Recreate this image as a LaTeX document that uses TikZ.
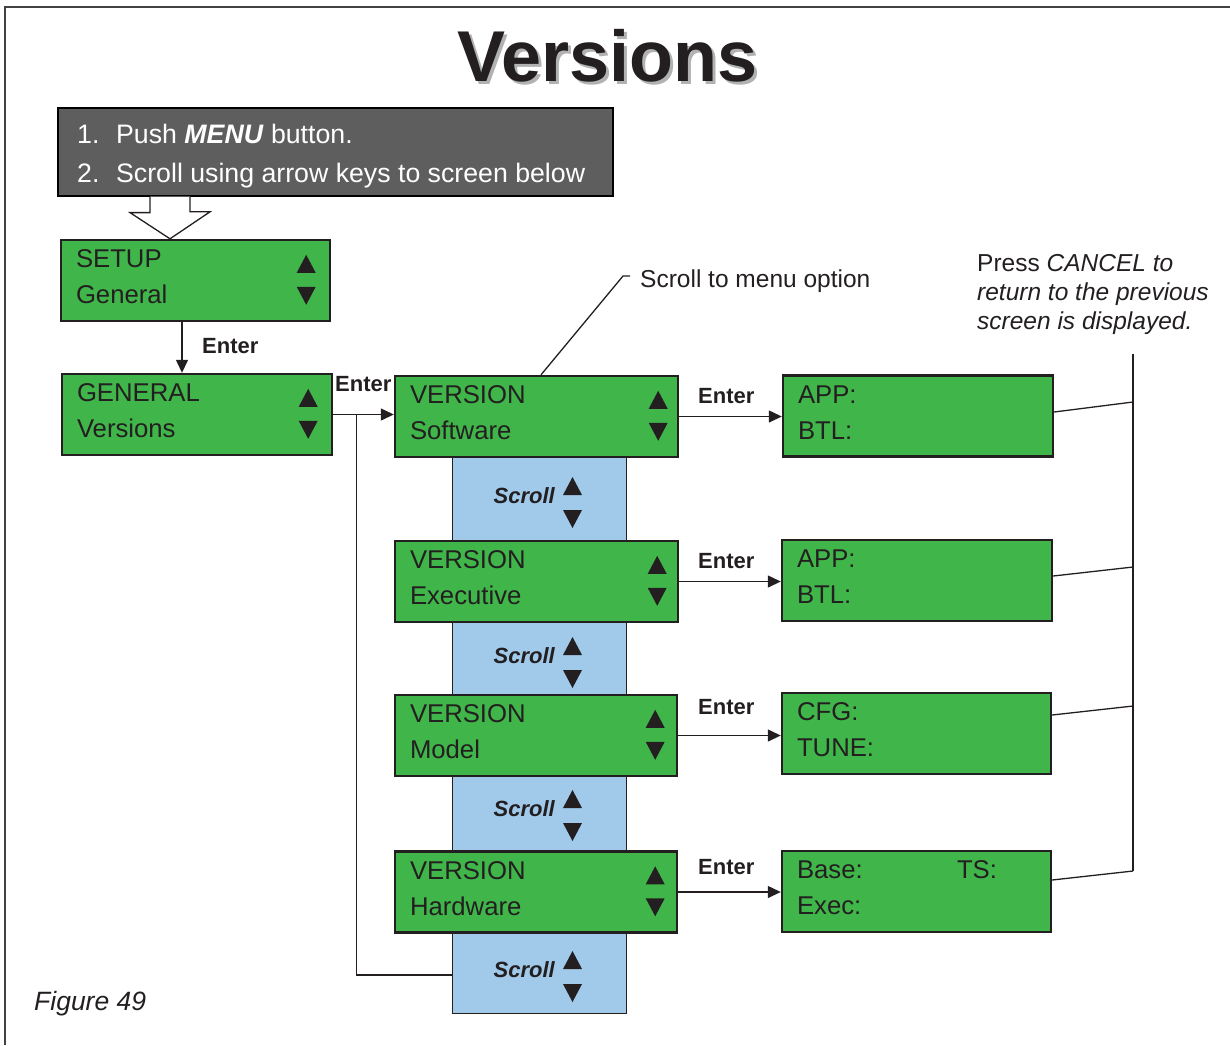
\documentclass[tikz,border=0pt]{standalone}
\usepackage{fontspec}
\setmainfont{Liberation Sans}
\usetikzlibrary{arrows.meta,positioning}
\definecolor{scrgreen}{RGB}{64,181,74}
\definecolor{scrblue}{RGB}{160,201,234}
\definecolor{notegray}{RGB}{94,94,94}
\definecolor{inkblack}{RGB}{35,31,32}

\begin{document}
\begin{tikzpicture}[x=1pt,y=-1pt,>={Triangle[length=13pt,width=12pt]},
  screen/.style={draw=inkblack,line width=2.4pt,fill=scrgreen,minimum height=81pt,inner sep=0pt},
  scrtxt/.style={anchor=base west,inner sep=0pt,text=inkblack,font=\fontsize{25.7}{30}\selectfont},
  note/.style={anchor=base west,inner sep=0pt,text=inkblack,font=\fontsize{24.5}{29}\selectfont},
  keylbl/.style={anchor=base west,inner sep=0pt,text=inkblack,font=\fontsize{22}{26}\selectfont\bfseries},
  link/.style={line width=1.3pt,draw=inkblack}]
\useasboundingbox (0,0) rectangle (1230,1045);
\draw[line width=2pt,inkblack!85] (5,1045) -- (5,7) -- (1230,7);
% title
\node[anchor=base,inner sep=0pt,text=black!30,font=\fontsize{72}{80}\selectfont\bfseries] (titleshadow) at (610.5,84) {Versions};
\node[anchor=base,inner sep=0pt,text=inkblack,font=\fontsize{72}{80}\selectfont\bfseries] (title) at (607.5,81) {Versions};
% instructions
\node[draw=black,line width=1.2pt,fill=notegray,minimum width=555pt,minimum height=88pt,inner sep=0pt] (menu) at (335.5,152) {};
\node[note,text=white,font=\fontsize{26.7}{31}\selectfont] (step1) at (77,143) {\makebox[39pt][l]{1.}Push \textbf{\textit{MENU}} button.};
\node[note,text=white,font=\fontsize{26.7}{31}\selectfont] (step2) at (77,182) {\makebox[39pt][l]{2.}Scroll using arrow keys to screen below};
% scroll column
\node[draw=inkblack,line width=0.8pt,fill=scrblue,minimum width=174pt,minimum height=556pt,inner sep=0pt] (scrollcol) at (539,735) {};
% screens
\foreach \n/\cx/\cy/\w/\a/\b in {setup/195.5/280.5/269/SETUP/General,general/197/414.5/270/GENERAL/Versions,
  vsoft/536.5/416.5/283/VERSION/Software,vexec/536.5/581.5/283/VERSION/Executive,
  vmodel/536/735.5/282/VERSION/Model,vhard/536/892/282/VERSION/Hardware,
  app/918/416/270/APP:/BTL:,appexec/917/580.5/270/APP:/BTL:,
  cfg/916.5/733.5/269/CFG:/TUNE:,base/916.5/891.5/269/{\makebox[160pt][l]{Base:}TS:}/Exec:}
{
  \node[screen,minimum width=\w pt] (\n) at (\cx,\cy) {};
  \node[scrtxt] (\n-a) at ([shift={(16,29)}]\n.north west) {\a};
  \node[scrtxt] (\n-b) at ([shift={(16,65)}]\n.north west) {\b};
}
\foreach \n/\o in {setup/25,general/25,vsoft/21,vexec/22,vmodel/23,vhard/23} {
  \fill[inkblack] ([shift={(-\o-9.5,34)}]\n.north east) -- ++(19,0) -- ++(-9.5,-18) -- cycle;
  \fill[inkblack] ([shift={(-\o-9.5,48)}]\n.north east) -- ++(19,0) -- ++(-9.5,18) -- cycle;
}
% scroll labels
\foreach \s/\cy in {1/499,2/659,3/812,4/973} {
  \node[keylbl,anchor=base east,font=\fontsize{22}{26}\selectfont\bfseries\itshape] (scroll\s) at (555,\cy+4) {Scroll};
  \fill[inkblack] (563,\cy-4) -- (582,\cy-4) -- (572.5,\cy-22) -- cycle;
  \fill[inkblack] (563,\cy+11) -- (582,\cy+11) -- (572.5,\cy+29) -- cycle;
}
% hollow arrow
\path (menu.south -| 170,0) coordinate (h0) (setup.north -| 170,0) coordinate (h1);
\draw[link,fill=white] ([xshift=-20pt]h0) -- ++(0,16) -- ++(-20,0) -- (h1) -- ++(40,-27) -- ++(-20,0) -- ([xshift=20pt]h0);
% connectors
\coordinate (sg) at ([xshift=-13.5pt]setup.south);
\draw[link,->] (sg) -- (sg |- general.north);
\node[keylbl] (enter1) at (202,353) {Enter};
\draw[link,->] (general.east) -- (general.east -| vsoft.west);
\node[keylbl] (enter2) at (335,391) {Enter};
\coordinate (branch) at ([xshift=23pt]general.east);
\draw[link] (branch) |- (scrollcol.west |- 0,975);
\foreach \a/\b/\y in {vsoft/app/403,vexec/appexec/568,vmodel/cfg/714,vhard/base/874} {
  \draw[link,->] (\a.east) -- (\a.east -| \b.west);
  \node[keylbl] (\a-enter) at (698,\y) {Enter};
}
% menu option note
\node[note] (menuopt) at (640,287) {Scroll to menu option};
\coordinate (lead) at (623,276);
\draw[link] ([xshift=4.5pt]vsoft.north) -- (lead) -- ++(7,0);
% cancel note
\node[note] (cancel1) at (977,271) {Press \textit{CANCEL to}};
\node[note] (cancel2) at (977,300) {\textit{return to the previous}};
\node[note] (cancel3) at (977,329) {\textit{screen is displayed.}};
\coordinate (canceltop) at (1133,354);
\coordinate (cancelbot) at (1133,871);
\draw[link] (canceltop) -- (cancelbot);
\foreach \n/\ya/\yb in {app/412/402,appexec/576/567,cfg/715/706,base/880/871}
  \draw[link] (\n.east |- 0,\ya) -- (canceltop |- 0,\yb);
\node[note,font=\fontsize{26.5}{30}\selectfont\itshape] (figlabel) at (34,1010) {Figure 49};
\end{tikzpicture}
\end{document}
